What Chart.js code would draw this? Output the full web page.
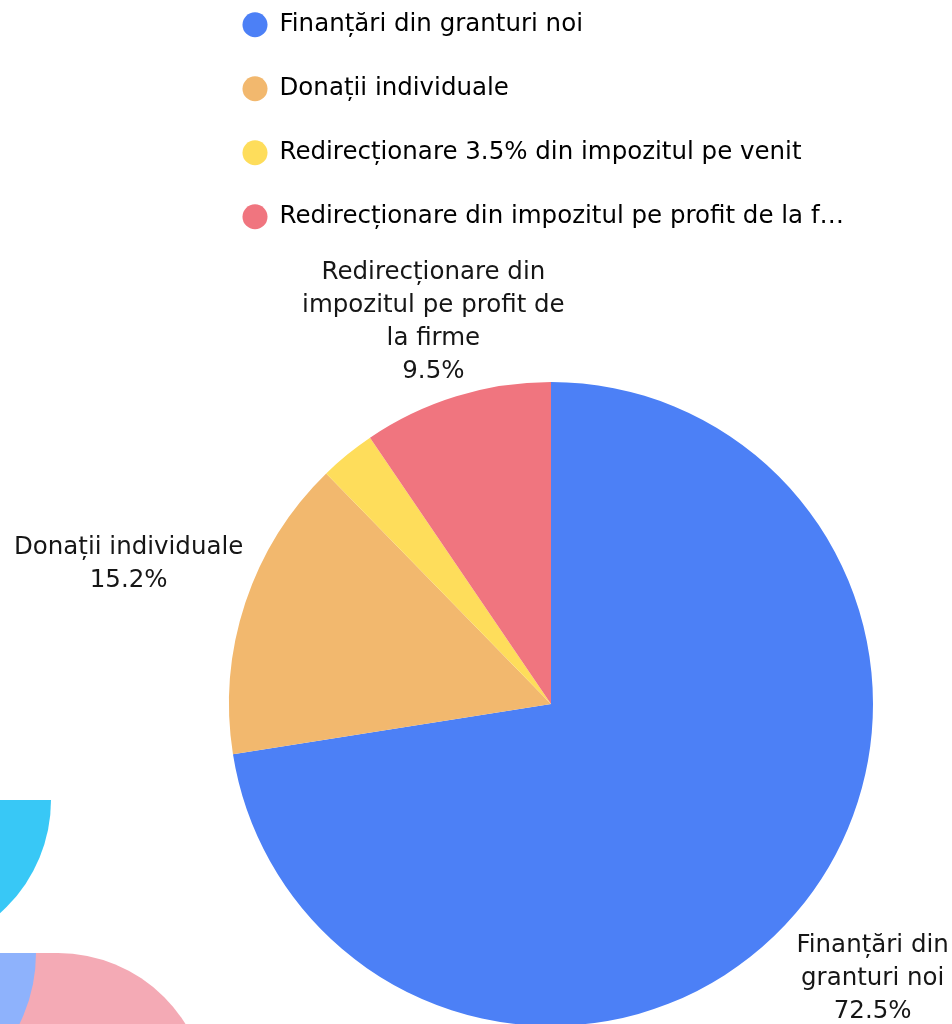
<!DOCTYPE html>
<html><head><meta charset="utf-8">
<script src="https://cdn.jsdelivr.net/npm/chart.js@4/dist/chart.umd.min.js"></script>
<style>
html,body{margin:0;padding:0;background:#fff;overflow:hidden;width:952px;height:1024px;position:relative}
#wrap{position:absolute;left:0;top:-27px;width:952px;height:1080px}
.deco{position:absolute}
</style></head><body>
<div class="deco" style="left:-100px;top:953px;width:308px;height:200px;background:#F4AAB5;border-top-right-radius:150px"></div>
<div class="deco" style="left:-286px;top:953px;width:322px;height:161px;background:#8EB2FC;border-radius:0 0 161px 161px"></div>
<div class="deco" style="left:-251px;top:800px;width:302px;height:151px;background:#38C8F6;border-radius:0 0 151px 151px"></div>
<div id="wrap"><canvas id="c" width="952" height="1080"></canvas></div>
<script>
const categories = [
  "Finanțări din granturi noi",
  "Donații individuale",
  "Redirecționare 3.5% din impozitul pe venit",
  "Redirecționare din impozitul pe profit de la firme"
];
const shares = [72.5, 15.2, 2.8, 9.5];
const sliceColors = ["#4C80F6", "#F2B86E", "#FEDD5B", "#F0757F"];
const legendTexts = [
  "Finanțări din granturi noi",
  "Donații individuale",
  "Redirecționare 3.5% din impozitul pe venit",
  "Redirecționare din impozitul pe profit de la f…"
];
const sliceLabelLines = [
  ["Finanțări din", "granturi noi"],
  ["Donații individuale"],
  [],
  ["Redirecționare din", "impozitul pe profit de", "la firme"]
];
const valueLabels = shares.map(v => v.toFixed(1) + "%");

const FONT_FAMILY = "'DejaVu Sans', sans-serif";
const FONT_SIZE = 24.5;

const outsideLabels = {
  id: 'outsideLabels',
  afterDatasetsDraw(chart, args, opts) {
    const meta = chart.getDatasetMeta(0);
    const ctx = chart.ctx;
    ctx.save();
    ctx.font = opts.fontSize + "px " + opts.fontFamily;
    ctx.fillStyle = opts.color;
    ctx.textAlign = 'center';
    ctx.textBaseline = 'middle';
    meta.data.forEach((arc, i) => {
      const lines = sliceLabelLines[i];
      if (!lines.length) return;
      const all = lines.concat([valueLabels[i]]);
      const p = arc.getProps(['x','y','startAngle','endAngle','outerRadius'], true);
      const mid = (p.startAngle + p.endAngle) / 2;
      const R = p.outerRadius + opts.offsets[i];
      const cx = p.x + R * Math.cos(mid), cy = p.y + R * Math.sin(mid);
      const top = cy - (all.length - 1) * opts.lineHeight / 2;
      all.forEach((t, k) => ctx.fillText(t, cx, top + k * opts.lineHeight));
    });
    ctx.restore();
  }
};

new Chart(document.getElementById('c'), {
  type: 'pie',
  data: {
    labels: categories,
    datasets: [{ data: shares, backgroundColor: sliceColors, borderWidth: 0, hoverOffset: 0 }]
  },
  options: {
    responsive: false,
    animation: false,
    layout: { padding: { left: 203.25, right: 53.25, top: 409, bottom: 27 } },
    plugins: {
      tooltip: { enabled: false },
      legend: {
        position: 'chartArea',
        align: 'start',
        labels: {
          usePointStyle: true,
          pointStyle: 'circle',
          boxHeight: 17.7,
          padding: 39.5,
          color: '#161616',
          font: { family: FONT_FAMILY, size: FONT_SIZE },
          generateLabels() {
            return legendTexts.map((t, i) => ({
              text: t, fillStyle: sliceColors[i], strokeStyle: sliceColors[i],
              lineWidth: 0, pointStyle: 'circle', hidden: false, index: i
            }));
          }
        }
      },
      outsideLabels: {
        fontFamily: FONT_FAMILY, fontSize: FONT_SIZE, color: '#161616',
        lineHeight: 33, offsets: [101, 123, 0, 78]
      }
    }
  },
  plugins: [outsideLabels]
});
</script>
</body></html>
